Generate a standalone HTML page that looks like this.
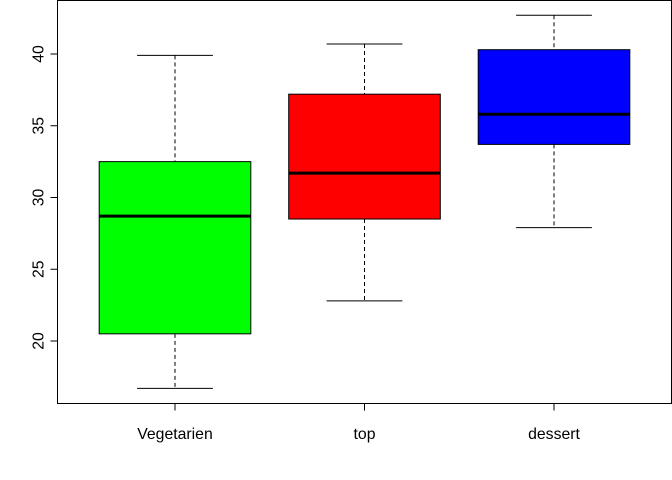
<!DOCTYPE html>
<html><head><meta charset="utf-8"><style>body{margin:0;background:#fff}svg{display:block}text{font-family:"Liberation Sans",sans-serif;font-size:15.8px;fill:#000}</style></head>
<body>
<svg id="c" width="672" height="480"></svg>
<script>
const categories=["Vegetarien","top","dessert"];
const colors=["#00ff00","#ff0000","#0000ff"];
const mins=[16.7,22.8,27.9];
const q1s=[20.5,28.5,33.7];
const medians=[28.7,31.7,35.8];
const q3s=[32.5,37.2,40.3];
const maxs=[39.9,40.7,42.7];
const yTicks=[20,25,30,35,40];
const NS="http://www.w3.org/2000/svg";
const svg=document.getElementById('c');
const L=57.5,R=671.5,T=0.5,B=403.5;
const y=v=>341-(v-20)*14.35;
const x=i=>L+(i+1-0.38)*(R-L)/3.24;
const pxU=(R-L)/3.24;
function mk(t,a,p){const e=document.createElementNS(NS,t);for(const k in a)e.setAttribute(k,a[k]);(p||svg).appendChild(e);return e;}
let fr=mk('rect',{x:L,y:T,width:R-L,height:B-T,fill:'none',stroke:'#000'});


let ya=mk('g',{});


mk('line',{x1:L,x2:L,y1:y(20),y2:y(40),stroke:'#000'},ya);
yTicks.forEach(v=>{
 mk('line',{x1:L-7,x2:L,y1:y(v),y2:y(v),stroke:'#000'},ya);
 let t=mk('text',{x:0,y:0,'text-anchor':'middle',transform:`translate(${L-14},${y(v)}) rotate(-90)`},ya);
 t.textContent=v;
 
 
});
categories.forEach((c,i)=>{
 const cx=x(i),hw=0.4*pxU,cw=0.2*pxU;
 const g=mk('g',{});
 
 
 mk('line',{x1:cx,x2:cx,y1:y(maxs[i]),y2:y(q3s[i]),stroke:'#000','stroke-dasharray':'4,3'},g);
 mk('line',{x1:cx,x2:cx,y1:y(q1s[i]),y2:y(mins[i]),stroke:'#000','stroke-dasharray':'4,3'},g);
 mk('line',{x1:cx-cw,x2:cx+cw,y1:y(maxs[i]),y2:y(maxs[i]),stroke:'#000'},g);
 mk('line',{x1:cx-cw,x2:cx+cw,y1:y(mins[i]),y2:y(mins[i]),stroke:'#000'},g);
 mk('rect',{x:cx-hw,y:y(q3s[i]),width:2*hw,height:y(q1s[i])-y(q3s[i]),fill:colors[i],stroke:'#000'},g);
 mk('line',{x1:cx-hw,x2:cx+hw,y1:y(medians[i]),y2:y(medians[i]),stroke:'#000','stroke-width':3},g);
 mk('line',{x1:cx,x2:cx,y1:B,y2:B+7,stroke:'#000'});
 const t=mk('text',{x:cx,y:439,'text-anchor':'middle'});
 t.textContent=c;
 
 
});
</script>
</body></html>
